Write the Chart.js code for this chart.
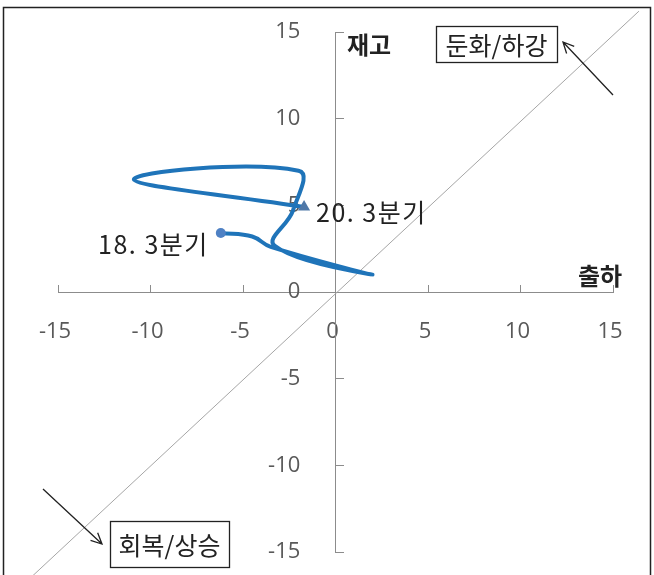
<!DOCTYPE html>
<html>
<head>
<meta charset="utf-8">
<script src="https://cdn.jsdelivr.net/npm/chart.js@4.4.0/dist/chart.umd.min.js"></script>
<style>
  html, body { margin: 0; padding: 0; background: #fff; }
  #wrap { width: 654px; height: 575px; position: relative; }
</style>
</head>
<body>
<div id="wrap"><canvas id="graphique_cycle" width="654" height="575"></canvas></div>
<script>
// 분기 (18.3 ~ 20.3)
const quarters = ['18.3', '18.4', '19.1', '19.2', '19.3', '19.4', '20.1', '20.2', '20.3'];
// 출하 증가율 (x축)
const shipment = [-6.2, -4.5, -3.5, 2.0, -3.3, -2.3, -2.0, -10.9, -1.7];
// 재고 증가율 (y축)
const inventory = [3.4, 3.2, 2.6, 1.0, 2.68, 4.7, 7.0, 6.5, 4.9];
// 45도 기준선 (양 끝)
const diagX = [-17, 16.4];
const diagY = [-17, 16.2];
// 눈금
const axisTicks = [-15, -10, -5, 0, 5, 10, 15];

const pathData = quarters.map((q, i) => ({ x: shipment[i], y: inventory[i] }));
const diagData = diagX.map((v, i) => ({ x: v, y: diagY[i] }));
const last = quarters.length - 1;

const FONT_KR = '"Noto Sans CJK KR", "Noto Sans", sans-serif';
const AXIS_COLOR = '#8c8c8c';

function arrow(ctx, x1, y1, x2, y2) {
    const a = Math.atan2(y2 - y1, x2 - x1);
    ctx.beginPath();
    ctx.moveTo(x1, y1);
    ctx.lineTo(x2, y2);
    ctx.moveTo(x2 - 12 * Math.cos(a - 0.45), y2 - 12 * Math.sin(a - 0.45));
    ctx.lineTo(x2, y2);
    ctx.lineTo(x2 - 12 * Math.cos(a + 0.45), y2 - 12 * Math.sin(a + 0.45));
    ctx.stroke();
}

function boxText(ctx, txt, x, y, w, h) {
    ctx.strokeRect(x + 0.5, y + 0.5, w, h);
    ctx.textAlign = 'center';
    ctx.textBaseline = 'middle';
    ctx.fillText(txt, x + w / 2, y + h / 2 + 1);
}

// 테두리, 박스, 화살표, 라벨
const decorations = {
    id: 'decorations',
    beforeDraw(chart) {
        const ctx = chart.ctx;
        ctx.save();
        ctx.fillStyle = '#fff';
        ctx.fillRect(0, 0, chart.width, chart.height);
        ctx.strokeStyle = '#222';
        ctx.lineWidth = 1.5;
        ctx.strokeRect(3.5, 7.5, 647, 580);
        ctx.restore();
    },
    afterDraw(chart) {
        const ctx = chart.ctx;
        const sx = chart.scales.x, sy = chart.scales.y;
        ctx.save();
        ctx.fillStyle = '#222';
        ctx.strokeStyle = '#222';
        ctx.lineWidth = 1.3;
        ctx.font = '25px ' + FONT_KR;
        boxText(ctx, '둔화/하강', 436, 26, 121, 36);
        boxText(ctx, '회복/상승', 110, 521, 119, 46);
        arrow(ctx, 613, 95, 563, 42);
        arrow(ctx, 43, 489, 102, 544);

        // 축 제목
        ctx.font = 'bold 24px ' + FONT_KR;
        ctx.textBaseline = 'middle';
        ctx.textAlign = 'left';
        ctx.fillText('재고', 347, 45);
        ctx.fillText('출하', 578, 276);

        // 시작/끝 분기 라벨
        ctx.font = '25px ' + FONT_KR;
        ctx.letterSpacing = '1.5px';
        const p0x = sx.getPixelForValue(shipment[0]), p0y = sy.getPixelForValue(inventory[0]);
        ctx.textAlign = 'right';
        ctx.fillText(quarters[0].replace('.', '. ') + '분기', p0x - 12, p0y + 11);
        const p1x = sx.getPixelForValue(shipment[last]), p1y = sy.getPixelForValue(inventory[last]);
        ctx.textAlign = 'left';
        ctx.fillText(quarters[last].replace('.', '. ') + '분기', p1x + 12, p1y + 5);
        ctx.restore();
    }
};

// 축이 레이아웃 공간을 차지하지 않도록
function noSpace(s) {
    if (s.isHorizontal()) { s.height = 0; } else { s.width = 0; }
    s.paddingTop = 0;
    s.paddingBottom = 0;
    s.paddingLeft = 0;
    s.paddingRight = 0;
}

const tickFont = { family: '"Open Sans", "Noto Sans", sans-serif', size: 22 };

new Chart(document.getElementById('graphique_cycle'), {
    type: 'scatter',
    data: {
        datasets: [{
            data: diagData,
            showLine: true,
            borderColor: '#a6a6a6',
            borderWidth: 1,
            pointRadius: 0,
            clip: false,
            order: 2
        }, {
            data: pathData,
            showLine: true,
            borderColor: '#1f74b9',
            borderWidth: 4,
            tension: 0.4,
            pointStyle: quarters.map((q, i) => i === 0 ? 'circle' : (i === last ? 'triangle' : false)),
            pointRadius: quarters.map((q, i) => i === 0 ? 5 : (i === last ? 7 : 0)),
            pointBackgroundColor: quarters.map((q, i) => i === 0 ? '#4f81c4' : '#4f78a8'),
            pointBorderWidth: 0,
            clip: false,
            order: 1
        }]
    },
    options: {
        responsive: false,
        animation: false,
        maintainAspectRatio: false,
        layout: { padding: { left: 58, right: 41, top: 32, bottom: 23 } },
        plugins: {
            legend: { display: false },
            tooltip: { enabled: false }
        },
        scales: {
            x: {
                type: 'linear',
                position: { y: 0 },
                min: -15,
                max: 15,
                afterBuildTicks: s => { s.ticks = axisTicks.map(v => ({ value: v })); },
                afterFit: noSpace,
                grid: { drawOnChartArea: false, drawTicks: true, tickLength: -8, color: AXIS_COLOR },
                border: { display: true, color: AXIS_COLOR, width: 1 },
                ticks: { padding: 35, color: '#595959', font: tickFont, labelOffset: -3 }
            },
            // 세로축 눈금 라벨 (축선 왼쪽)
            y: {
                type: 'linear',
                position: { x: -1.9 },
                min: -15,
                max: 15,
                afterBuildTicks: s => { s.ticks = axisTicks.map(v => ({ value: v })); },
                afterFit: noSpace,
                grid: { display: false },
                border: { display: false },
                ticks: { color: '#595959', font: tickFont, labelOffset: 0 }
            },
            // 세로축 선과 눈금
            y2: {
                type: 'linear',
                position: { x: 0 },
                min: -15,
                max: 15,
                afterBuildTicks: s => { s.ticks = axisTicks.map(v => ({ value: v })); },
                afterFit: noSpace,
                grid: { drawOnChartArea: false, drawTicks: true, tickLength: -9, color: AXIS_COLOR },
                border: { display: true, color: AXIS_COLOR, width: 1 },
                ticks: { display: false }
            }
        }
    },
    plugins: [decorations]
});
</script>
</body>
</html>
